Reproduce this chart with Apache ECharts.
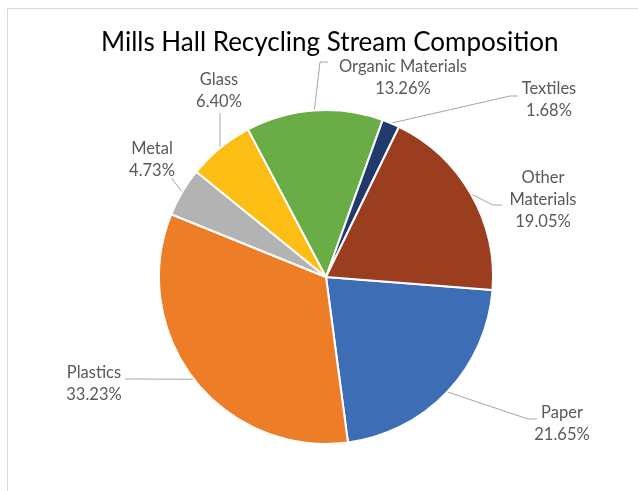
<!DOCTYPE html>
<html>
<head>
<meta charset="utf-8">
<script src="https://cdn.jsdelivr.net/npm/echarts@6/dist/echarts.min.js"></script>
<style>
  html, body { margin: 0; padding: 0; background: #fff; }
  #chart { width: 638px; height: 491px; }
</style>
</head>
<body>
<div id="chart"></div>
<script>
// Recycling stream composition, share of total (%)
const categories = ['Paper', 'Plastics', 'Metal', 'Glass', 'Organic Materials', 'Textiles', 'Other Materials'];
const shares = [21.65, 33.23, 4.73, 6.40, 13.26, 1.68, 19.05];
const labelNames = ['Paper', 'Plastics', 'Metal', 'Glass', 'Organic Materials', 'Textiles', 'Other\nMaterials'];
const sliceColors = ['#3C6DB5', '#ED7D27', '#B3B3B3', '#FCBE15', '#6AAC45', '#1F3A6B', '#9A3E1F'];

// Data-label placement: text block centre, plus leader elbow and end point
const labelPlacement = {
  'Paper':             { c: [562, 424], elbow: [528, 419], end: [537, 419] },
  'Plastics':          { c: [94, 384],  elbow: [135, 379], end: [125, 379] },
  'Metal':             { c: [152, 160], elbow: [173, 180], end: [172, 178] },
  'Glass':             { c: [219, 91],  elbow: [220, 116], end: [220, 113] },
  'Organic Materials': { c: [403, 78],  elbow: [320, 62],  end: [328, 62] },
  'Textiles':          { c: [549, 100], elbow: [510, 96],  end: [518, 96] },
  'Other Materials':   { c: [543, 200], elbow: [493, 205], end: [502, 205] }
};

const chart = echarts.init(document.getElementById('chart'), null, { renderer: 'canvas' });

chart.setOption({
  backgroundColor: '#ffffff',
  animation: false,
  graphic: [{
    type: 'rect',
    left: 5, top: 6,
    shape: { width: 700, height: 600 },
    style: { fill: 'none', stroke: '#d9d9d9', lineWidth: 1 },
    silent: true
  }],
  title: {
    text: 'Mills Hall Recycling Stream Composition',
    left: 96,
    top: 25,
    textStyle: { fontFamily: 'Lato', fontWeight: 'normal', fontSize: 26, color: '#000000' }
  },
  series: [{
    type: 'pie',
    center: [326, 277],
    radius: 167,
    startAngle: -4.5,
    clockwise: true,
    data: categories.map((c, i) => ({
      name: c,
      value: shares[i],
      itemStyle: { color: sliceColors[i] }
    })),
    itemStyle: { borderColor: '#ffffff', borderWidth: 2 },
    label: {
      show: true,
      formatter: p => labelNames[p.dataIndex] + '\n' + shares[p.dataIndex].toFixed(2) + '%',
      fontFamily: 'Lato',
      fontSize: 16.5,
      lineHeight: 22,
      color: '#595959',
      align: 'center'
    },
    labelLine: {
      show: true,
      length: 18,
      length2: 10,
      lineStyle: { color: '#a6a6a6', width: 1 }
    },
    labelLayout: function (params) {
      const pl = labelPlacement[categories[params.dataIndex]];
      const start = params.labelLinePoints ? params.labelLinePoints[0] : pl.elbow;
      return {
        x: pl.c[0],
        y: pl.c[1],
        align: 'center',
        verticalAlign: 'middle',
        labelLinePoints: [start, pl.elbow, pl.end]
      };
    }
  }]
});
</script>
</body>
</html>
